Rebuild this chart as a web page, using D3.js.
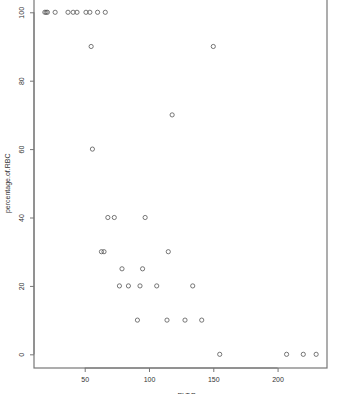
<!DOCTYPE html>
<html>
<head>
<meta charset="utf-8">
<script src="https://cdn.jsdelivr.net/npm/d3@7"></script>
<style>
	body { margin: 0; background: #fff; }
	.tick text, .lab { font-family: "Liberation Sans", Arial, sans-serif; fill: #333; }
</style>
</head>
<body>
<script>
// points, grouped by their y value
var xs = [19, 20, 21, 27, 37, 41, 44, 51, 54, 60, 66,
	55, 150,
	118,
	56,
	68, 73, 97,
	63, 65, 115,
	79, 95,
	77, 84, 93, 106, 134,
	91, 114, 128, 141,
	155, 207, 220, 230];
var ys = [100, 100, 100, 100, 100, 100, 100, 100, 100, 100, 100,
	90, 90,
	70,
	60,
	40, 40, 40,
	30, 30, 30,
	25, 25,
	20, 20, 20, 20, 20,
	10, 10, 10, 10,
	0, 0, 0, 0];
var xTicks = [50, 100, 150, 200];
var yTicks = [0, 20, 40, 60, 80, 100];
var xLabel = "PLT.P";
var yLabel = "percentage.of.RBC";

window.onload = drawPlot();

function drawPlot(){

	var width = 342,
		height = 394;

	// plot region (R-like box)
	var left = 34, right = 327, top = -1.4, bottom = 368;

	var svg = d3.select("body")
		.append("svg")
		.attr("width", width)
		.attr("height", height);

	// R pads the data range by 4% on each side
	function pad(ext){
		var r = ext[1] - ext[0];
		return [ext[0] - r * 0.04, ext[1] + r * 0.04];
	}

	var x = d3.scaleLinear()
		.domain(pad(d3.extent(xs)))
		.range([left, right]);

	var y = d3.scaleLinear()
		.domain(pad(d3.extent(ys)))
		.range([bottom, top]);

	// box round the plot
	svg.append("rect")
		.attr("x", left)
		.attr("y", top)
		.attr("width", right - left)
		.attr("height", bottom - top)
		.attr("fill", "none")
		.attr("stroke", "#777")
		.attr("stroke-width", 1.2);

	// bottom axis
	var xAxis = svg.append("g")
		.attr("transform", "translate(0," + bottom + ")")
		.call(d3.axisBottom(x).tickValues(xTicks).tickSize(4).tickPadding(5).tickFormat(d3.format("d")));
	xAxis.select(".domain")
		.attr("d", "M" + x(xTicks[0]) + ",0H" + x(xTicks[xTicks.length - 1]))
		.attr("stroke", "#777");
	xAxis.selectAll(".tick line").attr("stroke", "#777");
	xAxis.selectAll(".tick text").style("font-size", "7px");

	// left axis, labels turned like R's las=0
	var yAxis = svg.append("g")
		.attr("transform", "translate(" + left + ",0)")
		.call(d3.axisLeft(y).tickValues(yTicks).tickSize(4).tickFormat(d3.format("d")));
	yAxis.select(".domain")
		.attr("d", "M0," + y(yTicks[0]) + "V" + y(yTicks[yTicks.length - 1]))
		.attr("stroke", "#777");
	yAxis.selectAll(".tick line").attr("stroke", "#777");
	yAxis.selectAll(".tick text")
		.style("font-size", "7px")
		.attr("x", null)
		.attr("dy", null)
		.attr("text-anchor", "middle")
		.attr("transform", "translate(-10,0) rotate(-90)");

	// axis titles
	svg.append("text")
		.attr("class", "lab")
		.attr("transform", "translate(10," + ((top + bottom) / 2) + ") rotate(-90)")
		.attr("text-anchor", "middle")
		.style("font-size", "7px")
		.text(yLabel);

	svg.append("text")
		.attr("class", "lab")
		.attr("x", (left + right) / 2 + 6)
		.attr("y", 398)
		.attr("text-anchor", "middle")
		.style("font-size", "7px")
		.text(xLabel);

	// open circles
	svg.selectAll(".pt")
		.data(d3.range(xs.length))
		.enter()
		.append("circle")
		.attr("class", "pt")
		.attr("cx", function(i){ return x(xs[i]); })
		.attr("cy", function(i){ return y(ys[i]); })
		.attr("r", 2.1)
		.attr("fill", "none")
		.attr("stroke", "#555")
		.attr("stroke-width", 0.8);
};
</script>
</body>
</html>
